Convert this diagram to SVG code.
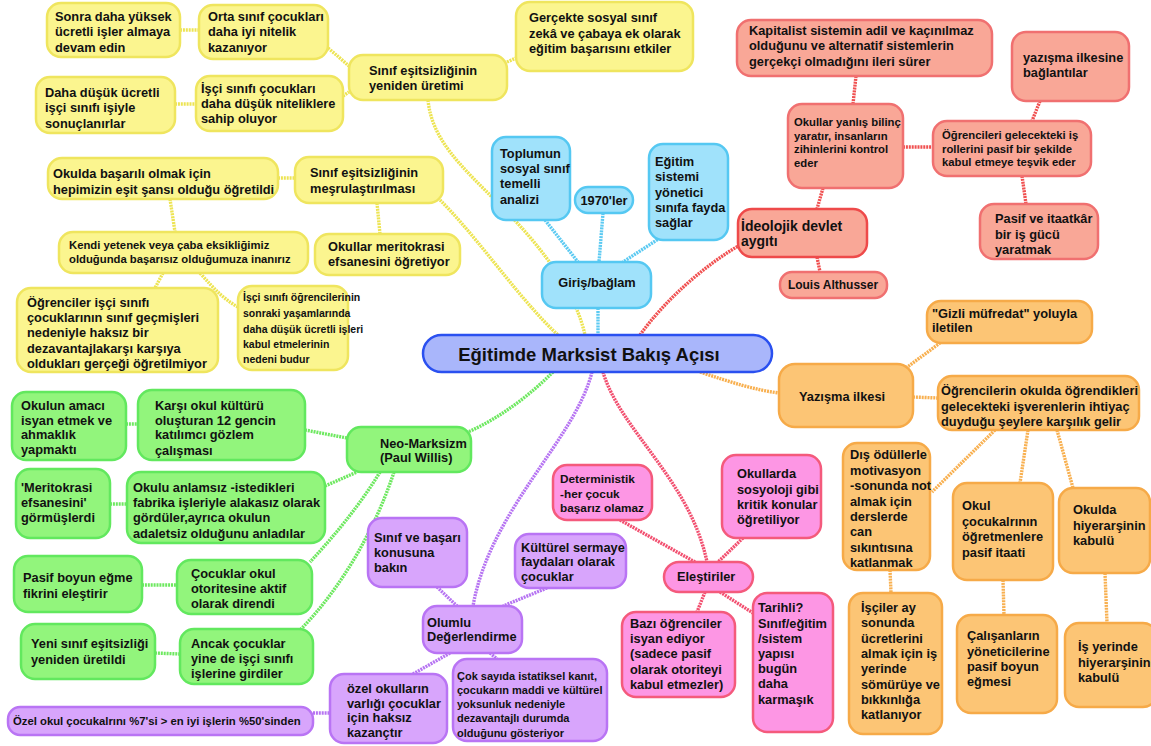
<svg xmlns="http://www.w3.org/2000/svg" width="1151" height="746" viewBox="0 0 1151 746">
<style>
text{font-family:"Liberation Sans",Arial,sans-serif;font-weight:bold;font-size:12.8px;fill:#111}
.sm{font-size:11.3px}
.nw{font-family:"Liberation Sans Narrow","Liberation Sans",sans-serif;font-size:10.5px}
rect{stroke-width:2.5}
.y rect{fill:#fbf58f;stroke:#efe55e}
.b rect{fill:#a0e2fb;stroke:#55c8f2}
.r rect{fill:#f9a797;stroke:#f07070}
.o rect{fill:#fcc575;stroke:#f6aa48}
.g rect{fill:#92f57c;stroke:#62e85e}
.p rect{fill:#d8a5fc;stroke:#b974f4}
.k rect{fill:#fd96e4;stroke:#f45a7c}
#conn path{fill:none;stroke-width:3.4;stroke-dasharray:2 0.9}
.cy{stroke:#ede453}.cb{stroke:#5ccaf2}.cr{stroke:#f05050}.co{stroke:#f8b050}.cg{stroke:#6ee860}.cp{stroke:#b674f2}.ck{stroke:#f25070}
</style>
<g id="conn">
<path class="cy" d="M180,30 L199,30"/>
<path class="cy" d="M328,48 Q340,58 349,66"/>
<path class="cy" d="M175,104 L196,104"/>
<path class="cy" d="M343,96 L349,92"/>
<path class="cy" d="M507,62 L516,58"/>
<path class="cy" d="M428,100 C432,140 460,165 500,205 C540,245 575,290 585,335"/>
<path class="cy" d="M440,200 C480,240 520,300 558,335"/>
<path class="cy" d="M278,178 L295,178"/>
<path class="cy" d="M377,203 L380,234"/>
<path class="cy" d="M170,199 L175,232"/>
<path class="cy" d="M163,273 L155,288"/>
<path class="cy" d="M200,273 C215,290 225,300 238,307"/>
<path class="cb" d="M545,220 L578,262"/>
<path class="cb" d="M603,213 L599,262"/>
<path class="cb" d="M660,238 L623,262"/>
<path class="cb" d="M598,308 L598,335"/>
<path class="cr" d="M856,76 L853,104"/>
<path class="cr" d="M903,147 L933,147"/>
<path class="cr" d="M1040,101 L1032,121"/>
<path class="cr" d="M1022,176 L1026,204"/>
<path class="cr" d="M823,188 L817,209"/>
<path class="cr" d="M817,257 L820,272"/>
<path class="cr" d="M740,245 C705,265 665,300 640,335"/>
<path class="co" d="M700,372 C730,382 755,390 779,393"/>
<path class="co" d="M906,368 L940,343"/>
<path class="co" d="M913,397 L938,398"/>
<path class="co" d="M995,430 L932,492"/>
<path class="co" d="M1028,430 L1020,483"/>
<path class="co" d="M1057,430 L1073,488"/>
<path class="co" d="M890,570 L891,593"/>
<path class="co" d="M1003,580 L1004,615"/>
<path class="co" d="M1105,573 L1107,623"/>
<path class="cg" d="M553,372 C530,395 500,418 468,432"/>
<path class="cg" d="M126,424 L138,424"/>
<path class="cg" d="M305,430 L347,438"/>
<path class="cg" d="M110,504 L127,504"/>
<path class="cg" d="M325,486 L357,472"/>
<path class="cg" d="M380,472 C360,505 335,535 310,562"/>
<path class="cg" d="M394,472 C375,530 340,590 300,630"/>
<path class="cg" d="M142,585 L177,585"/>
<path class="cg" d="M155,653 L180,654"/>
<path class="cp" d="M592,372 C575,440 490,510 473,606"/>
<path class="cp" d="M437,587 L457,606"/>
<path class="cp" d="M547,588 L503,606"/>
<path class="cp" d="M450,653 L413,674"/>
<path class="cp" d="M490,653 L497,659"/>
<path class="cp" d="M313,713 L330,713"/>
<path class="ck" d="M603,372 C620,430 690,480 707,562"/>
<path class="ck" d="M620,520 L695,562"/>
<path class="ck" d="M743,538 L718,562"/>
<path class="ck" d="M705,592 L697,612"/>
<path class="ck" d="M720,592 L753,613"/>
</g>

<g id="center"><rect x="423" y="335" width="349" height="37" rx="18.5" fill="#a9b6fb" stroke="#2a50f0" stroke-width="3"/><text x="589" y="360.5" text-anchor="middle" style="font-size:18.5px">Eğitimde Marksist Bakış Açısı</text></g>

<g id="y1" class="y"><rect x="47" y="3" width="133" height="54" rx="14"/><text><tspan x="55" y="21">Sonra daha yüksek</tspan><tspan x="55" y="36">ücretli işler almaya</tspan><tspan x="55" y="52">devam edin</tspan></text></g>
<g id="y2" class="y"><rect x="199" y="5" width="129" height="54" rx="14"/><text><tspan x="208" y="21">Orta sınıf çocukları</tspan><tspan x="208" y="36">daha iyi nitelik</tspan><tspan x="208" y="52">kazanıyor</tspan></text></g>
<g id="y3" class="y"><rect x="36" y="77" width="139" height="56" rx="14"/><text><tspan x="45" y="97">Daha düşük ücretli</tspan><tspan x="45" y="112">işçi sınıfı işiyle</tspan><tspan x="45" y="128">sonuçlanırlar</tspan></text></g>
<g id="y4" class="y"><rect x="196" y="76" width="147" height="55" rx="14"/><text><tspan x="201" y="93">İşçi sınıfı çocukları</tspan><tspan x="201" y="108">daha düşük niteliklere</tspan><tspan x="201" y="123">sahip oluyor</tspan></text></g>
<g id="y5" class="y"><rect x="349" y="55" width="158" height="45" rx="14"/><text><tspan x="369" y="74.5">Sınıf eşitsizliğinin</tspan><tspan x="369" y="89.5">yeniden üretimi</tspan></text></g>
<g id="y6" class="y"><rect x="516" y="2" width="177" height="69" rx="14"/><text><tspan x="529" y="21.5">Gerçekte sosyal sınıf</tspan><tspan x="529" y="37.5">zekâ ve çabaya ek olarak</tspan><tspan x="529" y="52.5">eğitim başarısını etkiler</tspan></text></g>
<g id="y7" class="y"><rect x="48" y="158" width="230" height="41" rx="14"/><text><tspan x="53" y="177.5">Okulda başarılı olmak için</tspan><tspan x="53" y="193.5">hepimizin eşit şansı olduğu öğretildi</tspan></text></g>
<g id="y8" class="y"><rect x="295" y="157" width="148" height="46" rx="14"/><text><tspan x="310" y="176.5">Sınıf eşitsizliğinin</tspan><tspan x="310" y="192.5">meşrulaştırılması</tspan></text></g>
<g id="y9" class="y"><rect x="59" y="232" width="249" height="41" rx="14"/><text class="sm"><tspan x="69" y="249">Kendi yetenek veya çaba eksikliğimiz</tspan><tspan x="69" y="263">olduğunda başarısız olduğumuza inanırız</tspan></text></g>
<g id="y10" class="y"><rect x="315" y="234" width="145" height="41" rx="14"/><text><tspan x="328" y="250.5">Okullar meritokrasi</tspan><tspan x="328" y="265.5">efsanesini öğretiyor</tspan></text></g>
<g id="y11" class="y"><rect x="17" y="288" width="201" height="84" rx="14"/><text><tspan x="27" y="306.5">Öğrenciler işçi sınıfı</tspan><tspan x="27" y="321.5">çocuklarının sınıf geçmişleri</tspan><tspan x="27" y="336.5">nedeniyle haksız bir</tspan><tspan x="27" y="352.5">dezavantajlakarşı karşıya</tspan><tspan x="27" y="367.5">oldukları gerçeği öğretilmiyor</tspan></text></g>
<g id="y12" class="y"><rect x="238" y="286" width="110" height="84" rx="14"/><text class="nw"><tspan x="243" y="300.5">İşçi sınıfı öğrencilerinin</tspan><tspan x="243" y="316.5">sonraki yaşamlarında</tspan><tspan x="243" y="332.5">daha düşük ücretli işleri</tspan><tspan x="243" y="347.5">kabul etmelerinin</tspan><tspan x="243" y="362.5">nedeni budur</tspan></text></g>

<g id="b1" class="b"><rect x="492" y="137" width="78" height="83" rx="14"/><text><tspan x="500" y="157.5">Toplumun</tspan><tspan x="500" y="172.5">sosyal sınıf</tspan><tspan x="500" y="187.5">temelli</tspan><tspan x="500" y="203.5">analizi</tspan></text></g>
<g id="b2" class="b"><rect x="575" y="187" width="58" height="26" rx="13"/><text x="604" y="204.5" text-anchor="middle">1970'ler</text></g>
<g id="b3" class="b"><rect x="649" y="144" width="79" height="96" rx="14"/><text><tspan x="655" y="165.5">Eğitim</tspan><tspan x="655" y="180.5">sistemi</tspan><tspan x="655" y="196.5">yönetici</tspan><tspan x="655" y="211.5">sınıfa fayda</tspan><tspan x="655" y="226.5">sağlar</tspan></text></g>
<g id="b4" class="b"><rect x="542" y="262" width="109" height="46" rx="14"/><text x="597" y="286.5" text-anchor="middle">Giriş/bağlam</text></g>

<g id="r1" class="r"><rect x="737" y="20" width="255" height="56" rx="14"/><text><tspan x="749" y="34.5">Kapitalist sistemin adil ve kaçınılmaz</tspan><tspan x="749" y="49.5">olduğunu ve alternatif sistemlerin</tspan><tspan x="749" y="65.5">gerçekçi olmadığını ileri sürer</tspan></text></g>
<g id="r2" class="r"><rect x="1012" y="32" width="117" height="69" rx="14"/><text><tspan x="1023" y="61.5">yazışma ilkesine</tspan><tspan x="1023" y="76.5">bağlantılar</tspan></text></g>
<g id="r3" class="r"><rect x="788" y="104" width="115" height="84" rx="14"/><text class="sm"><tspan x="794" y="126">Okullar yanlış bilinç</tspan><tspan x="794" y="139.5">yaratır, insanların</tspan><tspan x="794" y="153">zihinlerini kontrol</tspan><tspan x="794" y="167">eder</tspan></text></g>
<g id="r4" class="r"><rect x="933" y="121" width="158" height="55" rx="14"/><text class="sm"><tspan x="942" y="139">Öğrencileri gelecekteki iş</tspan><tspan x="942" y="152.5">rollerini pasif bir şekilde</tspan><tspan x="942" y="166">kabul etmeye teşvik eder</tspan></text></g>
<g id="r5" class="r"><rect x="980" y="204" width="118" height="55" rx="14"/><text><tspan x="995" y="222.5">Pasif ve itaatkâr</tspan><tspan x="995" y="238.5">bir iş gücü</tspan><tspan x="995" y="253.5">yaratmak</tspan></text></g>
<g id="r6" class="r"><rect x="738" y="209" width="129" height="48" rx="14" style="stroke:#ee4a4a"/><text style="font-size:14px"><tspan x="741" y="231">İdeolojik devlet</tspan><tspan x="741" y="246">aygıtı</tspan></text></g>
<g id="r7" class="r"><rect x="780" y="272" width="107" height="26" rx="12"/><text x="833" y="289" text-anchor="middle" style="font-size:12px">Louis Althusser</text></g>

<g id="o1" class="o"><rect x="927" y="301" width="165" height="42" rx="14"/><text><tspan x="932" y="317.5">"Gizli müfredat" yoluyla</tspan><tspan x="932" y="331.5">iletilen</tspan></text></g>
<g id="o2" class="o"><rect x="779" y="364" width="134" height="63" rx="16"/><text x="799" y="400.5">Yazışma ilkesi</text></g>
<g id="o3" class="o"><rect x="938" y="376" width="201" height="54" rx="14"/><text><tspan x="941" y="395">Öğrencilerin okulda öğrendikleri</tspan><tspan x="941" y="411">gelecekteki işverenlerin ihtiyaç</tspan><tspan x="941" y="426">duyduğu şeylere karşılık gelir</tspan></text></g>
<g id="o4" class="o"><rect x="843" y="443" width="87" height="127" rx="14"/><text><tspan x="850" y="458.5">Dış ödüllerle</tspan><tspan x="850" y="474.5">motivasyon</tspan><tspan x="850" y="489.5">-sonunda not</tspan><tspan x="850" y="505.5">almak için</tspan><tspan x="850" y="520.5">derslerde</tspan><tspan x="850" y="535.5">can</tspan><tspan x="850" y="551.5">sıkıntısına</tspan><tspan x="850" y="566.5">katlanmak</tspan></text></g>
<g id="o5" class="o"><rect x="953" y="483" width="100" height="97" rx="14"/><text><tspan x="962" y="509.5">Okul</tspan><tspan x="962" y="525.5">çocukalrının</tspan><tspan x="962" y="540.5">öğretmenlere</tspan><tspan x="962" y="556.5">pasif itaati</tspan></text></g>
<g id="o6" class="o"><rect x="1059" y="488" width="91" height="85" rx="14"/><text><tspan x="1073" y="513.5">Okulda</tspan><tspan x="1073" y="529.5">hiyerarşinin</tspan><tspan x="1073" y="544.5">kabulü</tspan></text></g>
<g id="o7" class="o"><rect x="849" y="593" width="93" height="141" rx="14"/><text><tspan x="861" y="611.5">İşçiler ay</tspan><tspan x="861" y="626.5">sonunda</tspan><tspan x="861" y="642.5">ücretlerini</tspan><tspan x="861" y="657.5">almak için iş</tspan><tspan x="861" y="672.5">yerinde</tspan><tspan x="861" y="688.5">sömürüye ve</tspan><tspan x="861" y="703.5">bıkkınlığa</tspan><tspan x="861" y="718.5">katlanıyor</tspan></text></g>
<g id="o8" class="o"><rect x="957" y="615" width="100" height="98" rx="14"/><text><tspan x="967" y="639.5">Çalışanların</tspan><tspan x="967" y="655.5">yöneticilerine</tspan><tspan x="967" y="670.5">pasif boyun</tspan><tspan x="967" y="685.5">eğmesi</tspan></text></g>
<g id="o9" class="o"><rect x="1065" y="623" width="92" height="84" rx="14"/><text><tspan x="1078" y="650.5">İş yerinde</tspan><tspan x="1078" y="666.5">hiyerarşinin</tspan><tspan x="1078" y="681.5">kabulü</tspan></text></g>

<g id="g1" class="g"><rect x="12" y="392" width="114" height="68" rx="14"/><text><tspan x="21" y="409.5">Okulun amacı</tspan><tspan x="21" y="424.5">isyan etmek ve</tspan><tspan x="21" y="438.5">ahmaklık</tspan><tspan x="21" y="453.5">yapmaktı</tspan></text></g>
<g id="g2" class="g"><rect x="138" y="390" width="167" height="70" rx="14"/><text><tspan x="155" y="409.5">Karşı okul kültürü</tspan><tspan x="155" y="424.5">oluşturan 12 gencin</tspan><tspan x="155" y="438.5">katılımcı gözlem</tspan><tspan x="155" y="454.5">çalışması</tspan></text></g>
<g id="g3" class="g"><rect x="347" y="427" width="124" height="45" rx="14"/><text><tspan x="380" y="447.5">Neo-Marksizm</tspan><tspan x="380" y="461.5">(Paul Willis)</tspan></text></g>
<g id="g4" class="g"><rect x="16" y="469" width="94" height="69" rx="14"/><text><tspan x="21" y="491.5">'Meritokrasi</tspan><tspan x="21" y="506.5">efsanesini'</tspan><tspan x="21" y="521.5">görmüşlerdi</tspan></text></g>
<g id="g5" class="g"><rect x="127" y="472" width="198" height="71" rx="14"/><text><tspan x="133" y="491.5">Okulu anlamsız -istedikleri</tspan><tspan x="133" y="506.5">fabrika işleriyle alakasız olarak</tspan><tspan x="133" y="521.5">gördüler,ayrıca okulun</tspan><tspan x="133" y="537.5">adaletsiz olduğunu anladılar</tspan></text></g>
<g id="g6" class="g"><rect x="14" y="556" width="128" height="56" rx="14"/><text><tspan x="23" y="581.5">Pasif boyun eğme</tspan><tspan x="23" y="597.5">fikrini eleştirir</tspan></text></g>
<g id="g7" class="g"><rect x="177" y="560" width="135" height="54" rx="14"/><text><tspan x="191" y="577.5">Çocuklar okul</tspan><tspan x="191" y="592.5">otoritesine aktif</tspan><tspan x="191" y="607.5">olarak direndi</tspan></text></g>
<g id="g8" class="g"><rect x="21" y="624" width="134" height="55" rx="14"/><text><tspan x="31" y="647.5">Yeni sınıf eşitsizliği</tspan><tspan x="31" y="663.5">yeniden üretildi</tspan></text></g>
<g id="g9" class="g"><rect x="180" y="629" width="133" height="55" rx="14"/><text><tspan x="191" y="647.5">Ancak çocuklar</tspan><tspan x="191" y="662.5">yine de işçi sınıfı</tspan><tspan x="191" y="677.5">işlerine girdiler</tspan></text></g>

<g id="p1" class="p"><rect x="8" y="707" width="305" height="28" rx="12"/><text class="sm" x="13" y="725">Özel okul çocukalrını %7'si &gt; en iyi işlerin %50'sinden</text></g>
<g id="p2" class="p"><rect x="330" y="674" width="117" height="69" rx="14"/><text><tspan x="347" y="692.5">özel okulların</tspan><tspan x="347" y="707.5">varlığı çocuklar</tspan><tspan x="347" y="721.5">için haksız</tspan><tspan x="347" y="736.5">kazançtır</tspan></text></g>
<g id="p3" class="p"><rect x="368" y="518" width="99" height="69" rx="14"/><text><tspan x="374" y="541.5">Sınıf ve başarı</tspan><tspan x="374" y="556.5">konusuna</tspan><tspan x="374" y="571.5">bakın</tspan></text></g>
<g id="p4" class="p"><rect x="515" y="534" width="111" height="54" rx="14"/><text><tspan x="521" y="551.5">Kültürel sermaye</tspan><tspan x="521" y="565.5">faydaları olarak</tspan><tspan x="521" y="580.5">çocuklar</tspan></text></g>
<g id="p5" class="p"><rect x="423" y="606" width="99" height="47" rx="14"/><text><tspan x="427" y="626.5">Olumlu</tspan><tspan x="427" y="640.5">Değerlendirme</tspan></text></g>
<g id="p6" class="p"><rect x="453" y="659" width="154" height="82" rx="14"/><text style="font-size:11px"><tspan x="457" y="680">Çok sayıda istatiksel kanıt,</tspan><tspan x="457" y="694">çocukarın maddi ve kültürel</tspan><tspan x="457" y="708">yoksunluk nedeniyle</tspan><tspan x="457" y="722">dezavantajlı durumda</tspan><tspan x="457" y="736.5">olduğunu gösteriyor</tspan></text></g>

<g id="k1" class="k"><rect x="553" y="465" width="99" height="55" rx="14"/><text style="font-size:11.8px"><tspan x="560" y="482.5">Deterministik</tspan><tspan x="560" y="497.5">-her çocuk</tspan><tspan x="560" y="511.5">başarız olamaz</tspan></text></g>
<g id="k2" class="k"><rect x="722" y="455" width="99" height="83" rx="14"/><text><tspan x="737" y="477.5">Okullarda</tspan><tspan x="737" y="493.5">sosyoloji gibi</tspan><tspan x="737" y="508.5">kritik konular</tspan><tspan x="737" y="523.5">öğretiliyor</tspan></text></g>
<g id="k3" class="k"><rect x="664" y="562" width="89" height="30" rx="15"/><text x="677" y="580.5">Eleştiriler</text></g>
<g id="k4" class="k"><rect x="622" y="612" width="113" height="85" rx="14"/><text><tspan x="630" y="627.5">Bazı öğrenciler</tspan><tspan x="630" y="642.5">isyan ediyor</tspan><tspan x="630" y="657.5">(sadece pasif</tspan><tspan x="630" y="673.5">olarak otoriteyi</tspan><tspan x="630" y="689">kabul etmezler)</tspan></text></g>
<g id="k5" class="k"><rect x="753" y="593" width="80" height="139" rx="14"/><text><tspan x="758" y="611.5">Tarihli?</tspan><tspan x="758" y="627.5">Sınıf/eğitim</tspan><tspan x="758" y="642.5">/sistem</tspan><tspan x="758" y="657.5">yapısı</tspan><tspan x="758" y="672.5">bugün</tspan><tspan x="758" y="687.5">daha</tspan><tspan x="758" y="703.5">karmaşık</tspan></text></g>
</svg>
